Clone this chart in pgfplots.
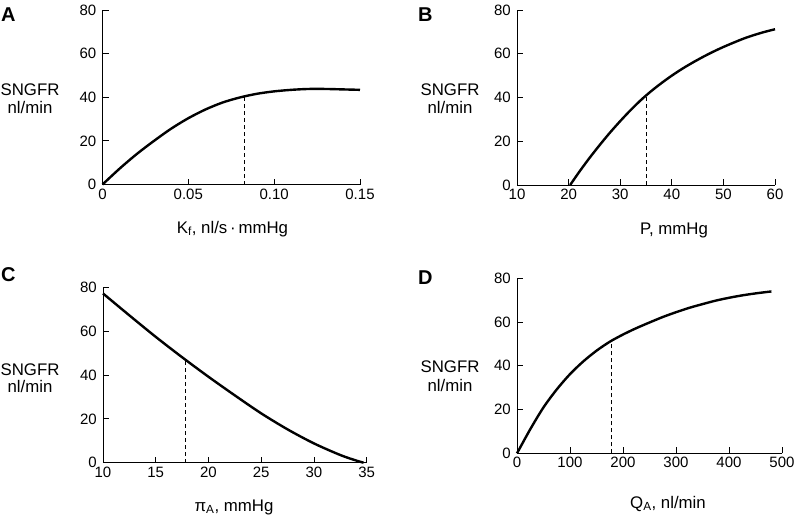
\documentclass[border=0pt]{standalone}
\usepackage{pgfplots}
\pgfplotsset{compat=1.18}
\usepackage{fontspec}
\setmainfont{Liberation Sans}
\newcommand\lab{\fontsize{16.8}{19}\selectfont}
\newcommand\tlab{\fontsize{15}{17}\selectfont}
\newcommand\letterfont{\fontsize{20}{24}\selectfont\bfseries}
\pgfplotsset{
  panel/.style={
    scale only axis,
    axis x line*=bottom, axis y line*=left,
    tick align=inside, major tick length=6pt,
    ymin=0, ymax=80, ytick={0,20,40,60,80},
    axis line style={line width=0.9pt},
    tick style={black, line width=0.9pt},
    tick label style={font=\tlab},
    xticklabel style={font=\tlab, inner sep=4pt},
    yticklabel style={font=\tlab, inner sep=6pt},
    /pgf/number format/assume math mode=true,
    clip=false,
  },
  curve/.style={black, line width=2.4pt, smooth},
  drop/.style={black, line width=1pt, dash pattern=on 4pt off 3pt},
}
\begin{document}
\begin{tikzpicture}
\useasboundingbox (0,0) rectangle (795pt,-515pt);
% Panel A
\begin{axis}[panel, at={(102.5pt,-184.5pt)}, anchor=south west,
  width=257.5pt, height=174.5pt,
  xmin=0, xmax=0.15, xtick={0,0.05,0.10,0.15}, xticklabels={0,0.05,0.10,0.15}]
\addplot[curve] coordinates {
(0,0) (0.01,7.3) (0.02,14.0) (0.03,20.0) (0.04,25.6) (0.05,30.4) (0.06,34.4)
(0.07,37.6) (0.08,39.9) (0.09,41.6) (0.10,42.7) (0.11,43.4) (0.12,43.8)
(0.13,43.8) (0.14,43.6) (0.15,43.4)};
\addplot[drop] coordinates {(0.083,0) (0.083,40.4)};
\end{axis}
% Panel B
\begin{axis}[panel, at={(517pt,-185pt)}, anchor=south west,
  width=258pt, height=175pt,
  xmin=10, xmax=60, xtick={10,20,30,40,50,60}]
\addplot[curve] coordinates {
(20.3,0) (22,5.8) (24,12.2) (26,18.2) (28,23.9) (30,29.2) (32,34.2) (34,38.8)
(36,42.9) (38,46.6) (40,50.0) (42,53.1) (44,55.9) (46,58.5) (48,60.9) (50,63.1)
(52,65.1) (54,67.0) (56,68.6) (58,70.0) (60,71.2)};
\addplot[drop] coordinates {(35.1,0) (35.1,41.0)};
\end{axis}
% Panel C
\begin{axis}[panel, at={(103pt,-462.7pt)}, anchor=south west,
  width=263.7pt, height=175.4pt,
  xmin=10, xmax=35, xtick={10,15,20,25,30,35}]
\addplot[curve] coordinates {
(10,77.2) (12.5,67.2) (15,57.4) (17.5,48.1) (20,39.2) (22.5,30.7) (25,22.5)
(27.5,15.2) (30,8.8) (32.5,3.5) (34,1.0) (34.7,0)};
\addplot[drop] coordinates {(17.8,0) (17.8,47.0)};
\end{axis}
% Panel D
\begin{axis}[panel, at={(517pt,-453.3pt)}, anchor=south west,
  width=265pt, height=175pt,
  xmin=0, xmax=500, xtick={0,100,200,300,400,500}]
\addplot[curve] coordinates {
(0,0) (25,11.0) (50,21.0) (75,29.2) (100,36.2) (125,42.0) (150,46.9)
(175,51.0) (200,54.3) (225,57.2) (250,59.8) (275,62.3) (300,64.5)
(325,66.5) (350,68.2) (375,69.8) (400,71.1) (425,72.2) (450,73.1) (480,74.0)};
\addplot[drop] coordinates {(178,0) (178,51.4)};
\end{axis}
% panel letters
\node[anchor=base west, inner sep=0pt] at (1pt,-21pt) {\letterfont A};
\node[anchor=base west, inner sep=0pt] at (418pt,-21pt) {\letterfont B};
\node[anchor=base west, inner sep=0pt] at (1pt,-281pt) {\letterfont C};
\node[anchor=base west, inner sep=0pt] at (418pt,-284pt) {\letterfont D};
% y labels
\node[anchor=base, inner sep=0pt] at (30pt,-95pt) {\lab SNGFR};
\node[anchor=base, inner sep=0pt] at (30pt,-113pt) {\lab nl/min};
\node[anchor=base, inner sep=0pt] at (450pt,-95pt) {\lab SNGFR};
\node[anchor=base, inner sep=0pt] at (450pt,-113pt) {\lab nl/min};
\node[anchor=base, inner sep=0pt] at (30pt,-375pt) {\lab SNGFR};
\node[anchor=base, inner sep=0pt] at (30pt,-392pt) {\lab nl/min};
\node[anchor=base, inner sep=0pt] at (450pt,-372pt) {\lab SNGFR};
\node[anchor=base, inner sep=0pt] at (450pt,-391pt) {\lab nl/min};
% x labels
\node[anchor=base, inner sep=0pt] at (232.5pt,-233pt) {\lab K\textsubscript{f}, nl/s\,·\,mmHg};
\node[anchor=base, inner sep=0pt] at (674pt,-234pt) {\lab P, mmHg};
\node[anchor=base, inner sep=0pt] at (234pt,-511pt) {\lab π\textsubscript{A}, mmHg};
\node[anchor=base, inner sep=0pt] at (668pt,-508pt) {\lab Q\textsubscript{A}, nl/min};
\end{tikzpicture}
\end{document}
